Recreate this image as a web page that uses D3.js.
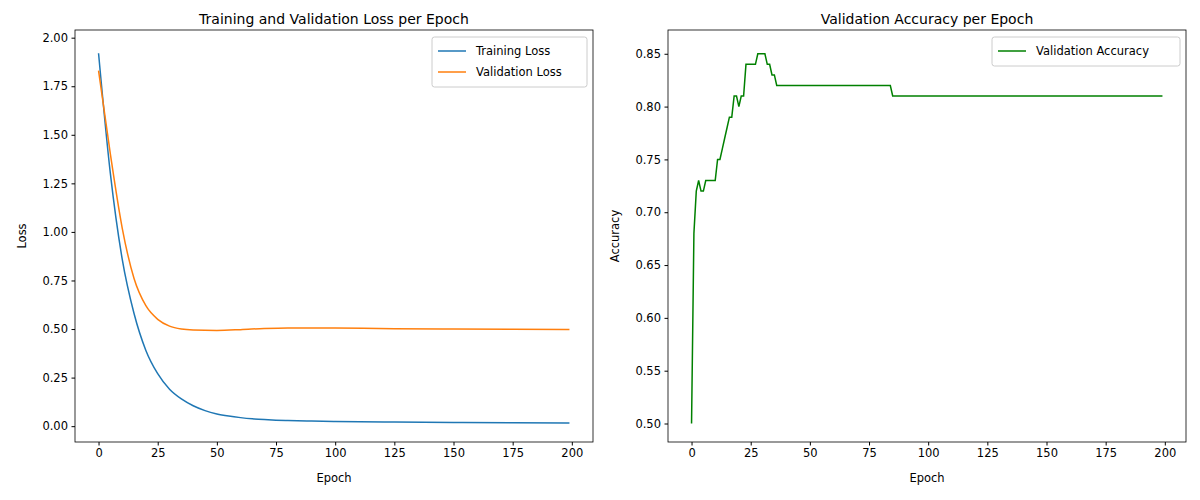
<!DOCTYPE html><html><head><meta charset="utf-8"><script src="https://d3js.org/d3.v7.min.js"></script>
<style>body{margin:0;background:#fff}text{font-family:"DejaVu Sans",sans-serif}</style></head><body><svg id="c" width="1200" height="500"></svg>
<script>
const trainEpochs=[0,5,10,15,20,25,30,35,40,45,50,55,60,65,70,75,80,90,100,125,150,175,199];
const trainLoss=[1.92,1.30,0.86,0.58,0.39,0.27,0.19,0.14,0.105,0.08,0.063,0.052,0.044,0.038,0.034,0.031,0.029,0.026,0.024,0.021,0.019,0.017,0.016];
const valEpochs=[0,5,10,15,20,25,30,35,40,50,60,70,80,90,100,125,150,175,199];
const valLoss=[1.83,1.40,1.02,0.76,0.62,0.55,0.515,0.50,0.495,0.493,0.497,0.503,0.506,0.506,0.505,0.502,0.500,0.499,0.498];
const accEpochs=[0,1,2,3,4,5,6,10,11,12,13,14,15,16,17,18,19,20,21,22,23,27,28,31,32,33,34,35,36,84,85,199];
const accVals=[0.50,0.68,0.72,0.73,0.72,0.72,0.73,0.73,0.75,0.75,0.76,0.77,0.78,0.79,0.79,0.81,0.81,0.80,0.81,0.81,0.84,0.84,0.85,0.85,0.84,0.84,0.83,0.83,0.82,0.82,0.81,0.81];
const lossTicks=[0,0.25,0.5,0.75,1,1.25,1.5,1.75,2];
const accTicks=[0.5,0.55,0.6,0.65,0.7,0.75,0.8,0.85];
const xTicks=[0,25,50,75,100,125,150,175,200];
const svg=d3.select("#c");
function panel(x0,x1,yd,yt,fmt,title,ylab,series,legend){
  const top=30,bot=442;
  const x=d3.scaleLinear().domain([-9.95,208.95]).range([x0,x1]);
  const y=d3.scaleLinear().domain(yd).range([bot,top]);
  const g=svg.append("g");
  g.append("g").attr("transform",`translate(0,${bot})`).call(d3.axisBottom(x).tickValues(xTicks).tickSize(3.5).tickPadding(3.5).tickFormat(d3.format("d")));
  g.append("g").attr("transform",`translate(${x0},0)`).call(d3.axisLeft(y).tickValues(yt).tickSize(3.5).tickPadding(3.5).tickFormat(d3.format(fmt)));
  g.selectAll(".domain").remove();
  g.selectAll(".tick text").attr("font-size",11.5).attr("fill","#000");
  g.selectAll(".tick line").attr("stroke","#000");
  series.forEach(s=>{
    const pts=s.e.map((e,i)=>[e,s.v[i]]);
    g.append("path").datum(pts).attr("fill","none").attr("stroke",s.c).attr("stroke-width",1.5)
     .attr("d",d3.line().x(d=>x(d[0])).y(d=>y(d[1])).curve(s.curve));
  });
  g.append("rect").attr("x",x0).attr("y",top).attr("width",x1-x0).attr("height",bot-top).attr("fill","none").attr("stroke","#000").attr("stroke-width",0.8);
  g.append("text").attr("x",(x0+x1)/2).attr("y",top-6).attr("text-anchor","middle").attr("font-size",14).text(title);
  g.append("text").attr("x",(x0+x1)/2).attr("y",482).attr("text-anchor","middle").attr("font-size",11.5).text("Epoch");
  g.append("text").attr("transform",`translate(${x0-53},${(top+bot)/2}) rotate(-90)`).attr("text-anchor","middle").attr("font-size",11.5).attr("dy","0.35em").text(ylab);
  const lw=legend.w, lx=x1-6-lw, ly=top+7, lh=legend.items.length*21+8;
  const L=g.append("g");
  L.append("rect").attr("x",lx).attr("y",ly).attr("width",lw).attr("height",lh).attr("rx",2.5).attr("fill","#fff").attr("fill-opacity",0.8).attr("stroke","#ccc");
  legend.items.forEach((it,i)=>{
    const yy=ly+14+i*21;
    L.append("line").attr("x1",lx+6).attr("x2",lx+34).attr("y1",yy).attr("y2",yy).attr("stroke",it.c).attr("stroke-width",1.5);
    L.append("text").attr("x",lx+44).attr("y",yy).attr("dy","0.35em").attr("font-size",11.5).text(it.t);
  });
}
panel(75,593,[-0.0815,2.0395],lossTicks,".2f","Training and Validation Loss per Epoch","Loss",
 [{e:trainEpochs,v:trainLoss,c:"#1f77b4",curve:d3.curveMonotoneX},{e:valEpochs,v:valLoss,c:"#ff7f0e",curve:d3.curveMonotoneX}],
 {w:155,items:[{t:"Training Loss",c:"#1f77b4"},{t:"Validation Loss",c:"#ff7f0e"}]});
panel(668,1186,[0.4825,0.8725],accTicks,".2f","Validation Accuracy per Epoch","Accuracy",
 [{e:accEpochs,v:accVals,c:"green",curve:d3.curveLinear}],
 {w:188,items:[{t:"Validation Accuracy",c:"green"}]});
</script></body></html>
